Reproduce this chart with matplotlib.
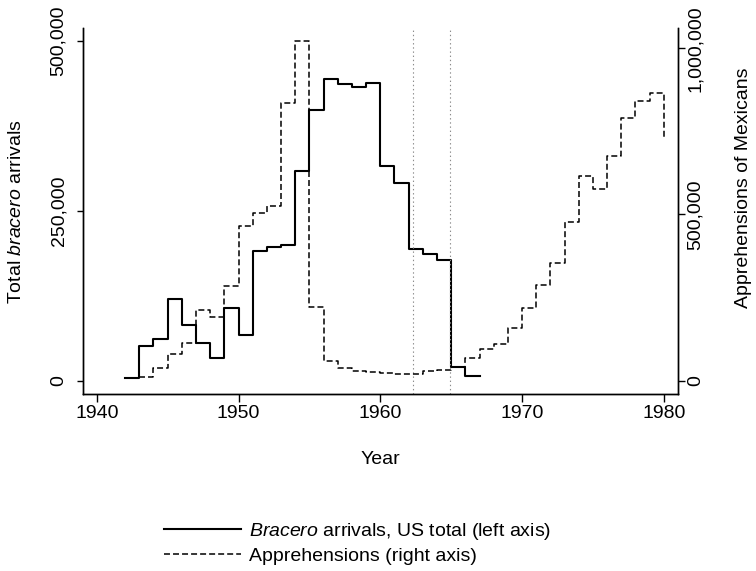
import matplotlib
matplotlib.use("Agg")
import matplotlib.pyplot as plt
from matplotlib.ticker import FuncFormatter

plt.rcParams['font.family'] = ['Liberation Sans', 'DejaVu Sans']
plt.rcParams['mathtext.fontset'] = 'custom'
plt.rcParams['mathtext.rm'] = 'Liberation Sans'
plt.rcParams['mathtext.it'] = 'Liberation Sans:italic'
plt.rcParams['lines.scale_dashes'] = False

# Data
bracero_years = list(range(1942, 1968))
bracero = [3500, 51000, 61000, 119800, 81500, 55000, 34000, 106500, 67300,
           191400, 196300, 200200, 308700, 398500, 444500, 436300, 432300,
           437800, 315600, 290600, 194300, 186000, 177700, 19700, 7400, 7400]

appr_years = list(range(1943, 1981))
apprehensions = [12000, 37000, 79000, 114000, 212000, 191000, 286000, 465000,
                 505000, 526000, 834000, 1021000, 221000, 59000, 37000, 30000,
                 25000, 22000, 21000, 21000, 29000, 33000, 40000, 67000, 94000,
                 110000, 158000, 218000, 288000, 353000, 476000, 617000, 577000,
                 676000, 791000, 842000, 866000, 734000]

event_years = [1962.33, 1964.9]

FS = 14

fig = plt.figure(figsize=(7.56, 5.71), dpi=100)
ax = fig.add_axes([0.1098, 0.31, 0.787, 0.641])
ax2 = ax.twinx()

l1, = ax.step(bracero_years, bracero, where='post', color='black', lw=1.5,
              label=r'$\mathit{Bracero}$ arrivals, US total (left axis)')
l2, = ax2.step(appr_years, apprehensions, where='post', color='black', lw=1.1,
               dashes=(4.3, 2.2), label='Apprehensions (right axis)')
for yr in event_years:
    ax.axvline(yr, color='0.55', lw=0.8, ls=(0, (1, 2)))

ax.set_xlim(1939.03, 1981.0)
ax.set_ylim(-19600, 519100)
ax2.set_ylim(-40000, 1061000)
ax.set_xticks([1940, 1950, 1960, 1970, 1980])
ax.set_yticks([0, 250000, 500000])
ax2.set_yticks([0, 500000, 1000000])
fmt = FuncFormatter(lambda v, p: f'{int(v):,}')
ax.yaxis.set_major_formatter(fmt)
ax2.yaxis.set_major_formatter(fmt)

for a in (ax, ax2):
    a.spines['top'].set_visible(False)
    for s in a.spines.values():
        s.set_linewidth(1.0)
ax.tick_params(axis='x', direction='out', length=6, width=1, labelsize=FS, pad=2)
ax.tick_params(axis='y', direction='out', length=4.5, width=1, labelsize=FS, pad=7)
ax2.tick_params(axis='y', direction='out', length=5, width=1, labelsize=FS, pad=1.5)
for t in ax.get_yticklabels() + ax2.get_yticklabels():
    t.set_rotation(90)
    t.set_va('center')

ax.set_xlabel('Year', fontsize=FS)
ax.xaxis.set_label_coords(0.5, -0.156)
ax.set_ylabel(r'Total $\mathit{bracero}$ arrivals', fontsize=FS)
ax.yaxis.set_label_coords(-0.097, 0.497)
ax2.set_ylabel('Apprehensions of Mexicans', fontsize=FS)
ax2.yaxis.set_label_coords(1.095, 0.563)

fig.legend(handles=[l1, l2], loc='upper left',
           bbox_to_anchor=(146 / 756, 1 - 503 / 571),
           frameon=False, fontsize=FS, handlelength=4.0, handletextpad=0.4,
           labelspacing=0.3)

fig.savefig('out.png', dpi=100)
